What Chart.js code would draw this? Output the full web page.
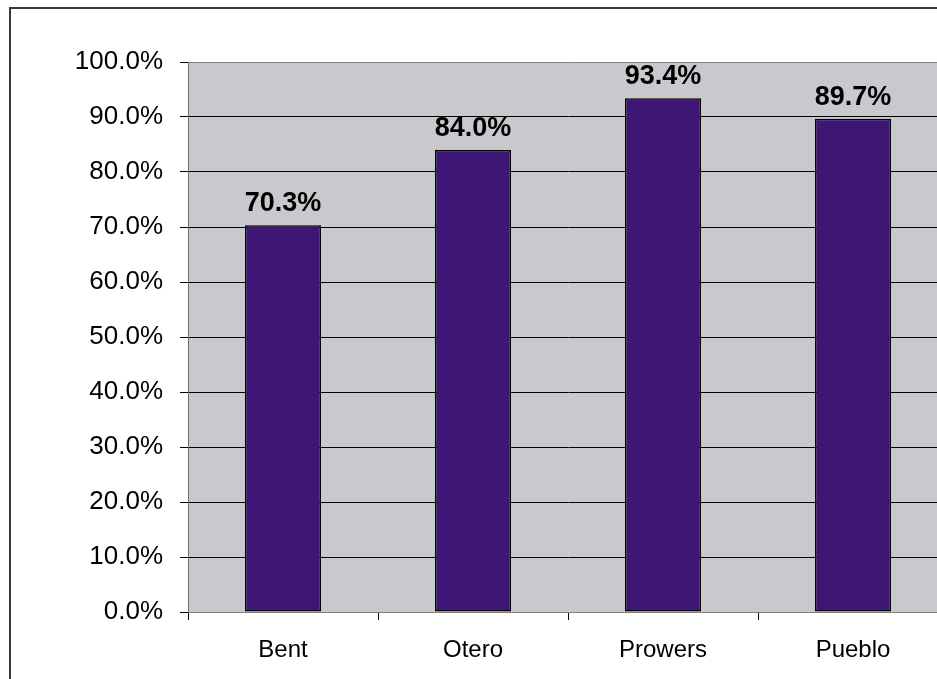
<!DOCTYPE html>
<html>
<head>
<meta charset="utf-8">
<script src="https://cdn.jsdelivr.net/npm/chart.js@4.4.1/dist/chart.umd.min.js"></script>
<style>
  html, body { margin: 0; padding: 0; overflow: hidden; background: #fff; width: 937px; height: 679px; }
  #wrap { position: relative; width: 948px; height: 679px; }
  canvas { display: block; }
</style>
</head>
<body>
<div id="wrap"><canvas id="chart" width="948" height="679"></canvas></div>
<script>
// Counties and their percentages
const counties = ['Bent', 'Otero', 'Prowers', 'Pueblo'];
const percentValues = [70.3, 84.0, 93.4, 89.7];
const yTickMin = 0;
const yTickMax = 100;
const yTickStep = 10;

const FONT = '"Liberation Sans", Arial, Helvetica, sans-serif';

// Gray plot background plus the frame line around the whole figure
const backdropPlugin = {
  id: 'backdrop',
  beforeDraw(chart) {
    const { ctx, chartArea } = chart;
    ctx.save();
    ctx.fillStyle = '#C9C9CD';
    ctx.fillRect(chartArea.left, chartArea.top, chartArea.right - chartArea.left, chartArea.bottom - chartArea.top);
    ctx.strokeStyle = '#3a3a3a';
    ctx.lineWidth = 2;
    ctx.strokeRect(10, 8, 3000, 3000);
    ctx.restore();
  }
};

// Bold value labels above each bar
const valueLabelPlugin = {
  id: 'valueLabels',
  afterDatasetsDraw(chart) {
    const { ctx } = chart;
    const meta = chart.getDatasetMeta(0);
    const data = chart.data.datasets[0].data;
    ctx.save();
    ctx.font = 'bold 27px ' + FONT;
    ctx.fillStyle = '#000';
    ctx.textAlign = 'center';
    ctx.textBaseline = 'alphabetic';
    meta.data.forEach((bar, i) => {
      ctx.fillText(data[i].toFixed(1) + '%', bar.x, bar.y - 14);
    });
    ctx.restore();
  }
};

new Chart(document.getElementById('chart'), {
  type: 'bar',
  data: {
    labels: counties,
    datasets: [{
      data: percentValues,
      backgroundColor: '#3D1676',
      borderColor: '#000',
      borderWidth: 1.5,
      borderSkipped: false,
      categoryPercentage: 1.0,
      barPercentage: 0.4
    }]
  },
  options: {
    responsive: false,
    animation: false,
    events: [],
    layout: { padding: { left: 0, top: 62, right: 0, bottom: 0 } },
    plugins: {
      legend: { display: false },
      tooltip: { enabled: false },
      title: { display: false }
    },
    scales: {
      x: {
        offset: true,
        grid: {
          offset: true,
          drawOnChartArea: false,
          drawTicks: true,
          tickLength: 8,
          tickColor: '#000'
        },
        border: { display: true, color: '#808080', width: 1 },
        ticks: {
          color: '#000',
          font: { family: FONT, size: 24 },
          padding: 16,
          maxRotation: 0
        },
        afterFit(scale) { scale.height = 67; }
      },
      y: {
        min: yTickMin,
        max: yTickMax,
        grid: {
          color: (c) => (c.tick && (c.tick.value === yTickMax || c.tick.value === yTickMin)) ? '#808080' : '#000',
          lineWidth: 1,
          drawTicks: true,
          tickLength: 8,
          tickColor: '#000'
        },
        border: { display: true, color: '#707070', width: 1 },
        ticks: {
          stepSize: yTickStep,
          color: '#000',
          font: { family: FONT, size: 26 },
          padding: 17,
          callback: (v) => Number(v).toFixed(1) + '%'
        },
        afterFit(scale) { scale.width = 188; }
      }
    }
  },
  plugins: [backdropPlugin, valueLabelPlugin]
});
</script>
</body>
</html>
